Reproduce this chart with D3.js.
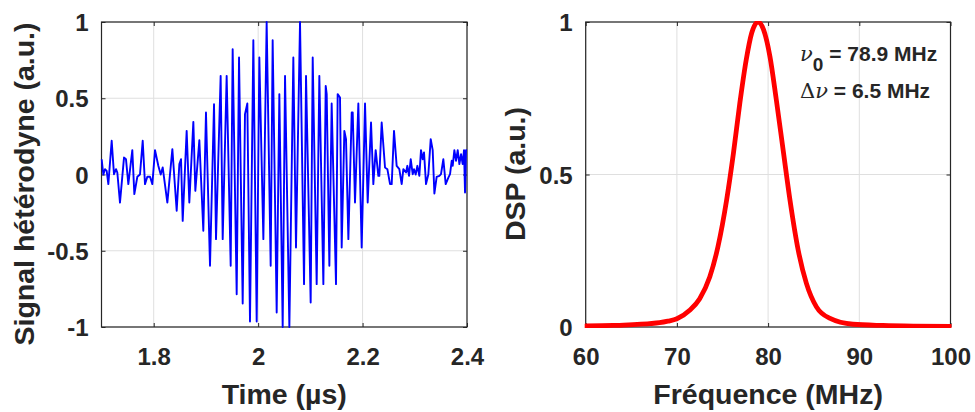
<!DOCTYPE html>
<html><head><meta charset="utf-8">
<script src="https://cdn.jsdelivr.net/npm/d3@7"></script>
<style>
html,body{margin:0;padding:0;background:#fff;}
svg{display:block;}
text{font-family:"Liberation Sans",Arial,sans-serif;font-weight:bold;fill:#262626;}
</style></head>
<body>
<svg id="chart" width="975" height="412"></svg>
<script>
// ---- Data: left panel (heterodyne signal) ----
const timeUs = [1.7003,1.7035,1.7067,1.7099,1.7131,1.7195,1.7239,1.7278,1.7303,1.7354,1.7431,1.7469,1.7514,1.7590,1.7629,1.7686,1.7737,1.7789,1.7833,1.7878,1.7929,1.7974,1.8025,1.8088,1.8134,1.8172,1.8261,1.8357,1.8440,1.8491,1.8523,1.8555,1.8631,1.8682,1.8759,1.8797,1.8874,1.8950,1.9001,1.9078,1.9155,1.9193,1.9282,1.9321,1.9397,1.9474,1.9512,1.9589,1.9634,1.9704,1.9748,1.9793,1.9844,1.9908,1.9972,2.0023,2.0100,2.0163,2.0240,2.0278,2.0355,2.0406,2.0470,2.0515,2.0598,2.0674,2.0725,2.0802,2.0879,2.0917,2.1006,2.1045,2.1121,2.1172,2.1249,2.1294,2.1313,2.1364,2.1408,2.1491,2.1523,2.1568,2.1600,2.1651,2.1683,2.1728,2.1792,2.1811,2.1855,2.1919,2.1983,2.2047,2.2098,2.2162,2.2206,2.2251,2.2302,2.2321,2.2366,2.2430,2.2475,2.2526,2.2558,2.2602,2.2653,2.2704,2.2749,2.2781,2.2832,2.2858,2.2890,2.2922,2.2960,2.2985,2.3017,2.3049,2.3087,2.3119,2.3151,2.3177,2.3215,2.3260,2.3305,2.3343,2.3375,2.3419,2.3471,2.3502,2.3547,2.3592,2.3643,2.3675,2.3707,2.3726,2.3758,2.3790,2.3822,2.3854,2.3886,2.3917,2.3943,2.3962,2.3981,2.4000];
const signal = [0.10,0.00,0.035,0.024,-0.063,0.221,0.002,0.035,0.013,-0.184,0.111,0.10,-0.063,0.160,-0.129,-0.015,0.0,0.221,-0.063,-0.015,-0.015,-0.063,0.160,0.057,0.0,0.046,-0.184,0.166,-0.238,0.068,0.10,-0.304,0.286,-0.184,0.345,-0.107,0.225,-0.369,0.407,-0.599,0.461,-0.424,0.647,-0.424,0.647,-0.599,0.822,-0.785,0.767,-0.846,0.396,0.466,-0.964,0.881,-0.964,0.767,-0.424,1.0,-0.599,0.881,-0.905,0.527,-1.0,0.647,-1.0,0.767,-0.479,1.0,-0.719,0.647,-0.839,0.767,-0.719,0.647,-0.719,0.581,0.527,-0.599,0.466,-0.719,0.527,0.505,-0.479,0.286,0.232,-0.424,0.407,0.407,-0.184,0.466,-0.479,0.466,-0.184,0.341,-0.063,0.160,-0.009,-0.009,0.341,0.046,0.035,-0.063,-0.063,0.286,0.057,0.035,-0.063,0.035,0.013,0.057,-0.009,0.10,0.002,0.035,0.0,0.057,-0.009,0.160,0.10,0.144,-0.063,0.002,0.232,0.160,-0.125,-0.015,-0.009,0.002,0.10,-0.063,-0.02,0.002,0.09,0.057,0.160,0.09,0.160,0.068,0.133,0.068,0.160,-0.118,0.160,0.16];
const timeTicks = [1.8, 2, 2.2, 2.4];
const signalTicks = [-1, -0.5, 0, 0.5, 1];

// ---- Data: right panel (power spectral density) ----
const freqMHz = [60,63,65.2,67,68.1,69,70,71.4,72.5,73.6,74.5,75.45,76.2,76.9,77.6,78.2,78.9,79.5,80.2,80.9,81.65,82.4,83.3,84.2,85.3,86.8,89.3,92.6,96,100];
const dsp = [0.004,0.005,0.008,0.011,0.014,0.019,0.027,0.055,0.093,0.164,0.263,0.416,0.57,0.734,0.876,0.964,1.0,0.975,0.887,0.745,0.58,0.416,0.252,0.143,0.066,0.028,0.009,0.005,0.003,0.002];
const freqTicks = [60, 70, 80, 90, 100];
const dspTicks = [0, 0.5, 1];

const svg = d3.select("#chart");
const axisColor = "#262626", gridColor = "#dfdfdf";

function panel(opts) {
  const {x0, x1, y0, y1, xDomain, yDomain, xTicks, yTicks, xLabel, yLabel, yLabelX, yLabelY, id} = opts;
  const g = svg.append("g");
  const x = d3.scaleLinear().domain(xDomain).range([x0, x1]);
  const y = d3.scaleLinear().domain(yDomain).range([y1, y0]);
  // grid
  g.append("g").selectAll("line").data(xTicks).join("line")
    .attr("x1", d => x(d)).attr("x2", d => x(d)).attr("y1", y0).attr("y2", y1)
    .attr("stroke", gridColor).attr("stroke-width", 1);
  g.append("g").selectAll("line").data(yTicks).join("line")
    .attr("y1", d => y(d)).attr("y2", d => y(d)).attr("x1", x0).attr("x2", x1)
    .attr("stroke", gridColor).attr("stroke-width", 1);
  // clip
  svg.append("clipPath").attr("id", id).append("rect")
    .attr("x", x0 - 1).attr("y", y0 - 1).attr("width", x1 - x0 + 2).attr("height", y1 - y0 + 2);
  // axes
  const fmt = d => String(d);
  const ax = g.append("g").attr("transform", `translate(0,${y1})`)
    .call(d3.axisBottom(x).tickValues(xTicks).tickFormat(fmt).tickSize(-4).tickPadding(21));
  const axT = g.append("g").attr("transform", `translate(0,${y0})`)
    .call(d3.axisTop(x).tickValues(xTicks).tickFormat("").tickSize(-4));
  const ay = g.append("g").attr("transform", `translate(${x0},0)`)
    .call(d3.axisLeft(y).tickValues(yTicks).tickFormat(fmt).tickSize(-4).tickPadding(13));
  const ayR = g.append("g").attr("transform", `translate(${x1},0)`)
    .call(d3.axisRight(y).tickValues(yTicks).tickFormat("").tickSize(-4));
  [ax, axT, ay, ayR].forEach(a => {
    a.select(".domain").remove();
    a.selectAll(".tick line").attr("stroke", axisColor).attr("stroke-width", 1);
    a.selectAll(".tick text").attr("fill", axisColor)
      .style("font-family", '"Liberation Sans", Arial, sans-serif')
      .style("font-weight", "bold").style("font-size", "24px");
  });
  ay.selectAll(".tick text").attr("dy", "0.36em");
  g.append("rect").attr("x", x0).attr("y", y0).attr("width", x1 - x0).attr("height", y1 - y0)
    .attr("fill", "none").attr("stroke", axisColor).attr("stroke-width", 1.2);
  // labels
  g.append("text").attr("x", (x0 + x1) / 2).attr("y", 404).attr("text-anchor", "middle")
    .style("font-size", "28.5px").text(xLabel);
  g.append("text").attr("transform", `translate(${yLabelX},${yLabelY}) rotate(-90)`)
    .attr("text-anchor", "middle").style("font-size", "28.5px").text(yLabel);
  return {g, x, y};
}

// Left panel
const L = panel({x0: 101.5, x1: 467, y0: 22, y1: 327, xDomain: [1.7, 2.4], yDomain: [-1, 1],
  xTicks: timeTicks, yTicks: signalTicks, xLabel: "Time (µs)", yLabel: "Signal hétérodyne (a.u.)",
  yLabelX: 34, yLabelY: 184, id: "clipL"});
const sigData = timeUs.map((t, i) => [t, signal[i]]);
L.g.append("path").datum(sigData).attr("clip-path", "url(#clipL)")
  .attr("fill", "none").attr("stroke", "#0000ff").attr("stroke-width", 1.9)
  .attr("stroke-linejoin", "round")
  .attr("d", d3.line().x(d => L.x(d[0])).y(d => L.y(d[1])));

// Right panel
const R = panel({x0: 585.7, x1: 950.5, y0: 22, y1: 327, xDomain: [60, 100], yDomain: [0, 1],
  xTicks: freqTicks, yTicks: dspTicks, xLabel: "Fréquence (MHz)", yLabel: "DSP (a.u.)",
  yLabelX: 525, yLabelY: 174, id: "clipR"});
const dspData = freqMHz.map((f, i) => [f, dsp[i]]);
R.g.append("path").datum(dspData).attr("clip-path", "url(#clipR)")
  .attr("fill", "none").attr("stroke", "#ff0000").attr("stroke-width", 4.8)
  .attr("stroke-linejoin", "round").attr("stroke-linecap", "round")
  .attr("d", d3.line().curve(d3.curveMonotoneX).x(d => R.x(d[0])).y(d => R.y(d[1])));

// Annotation
const a1 = R.g.append("text").attr("x", 800).attr("y", 61).style("font-size", "21px");
a1.append("tspan").style("font-family", '"DejaVu Serif", "Liberation Serif", serif')
  .style("font-style", "italic").style("font-weight", "normal").text("ν");
a1.append("tspan").attr("dy", 10).style("font-size", "19px").text("0");
a1.append("tspan").attr("dy", -10).text(" = 78.9 MHz");
const a2 = R.g.append("text").attr("x", 800).attr("y", 98).style("font-size", "21px");
a2.append("tspan").style("font-family", '"DejaVu Serif", "Liberation Serif", serif')
  .style("font-weight", "normal").text("Δ");
a2.append("tspan").style("font-family", '"DejaVu Serif", "Liberation Serif", serif')
  .style("font-style", "italic").style("font-weight", "normal").text("ν");
a2.append("tspan").text(" = 6.5 MHz");
</script>
</body></html>
